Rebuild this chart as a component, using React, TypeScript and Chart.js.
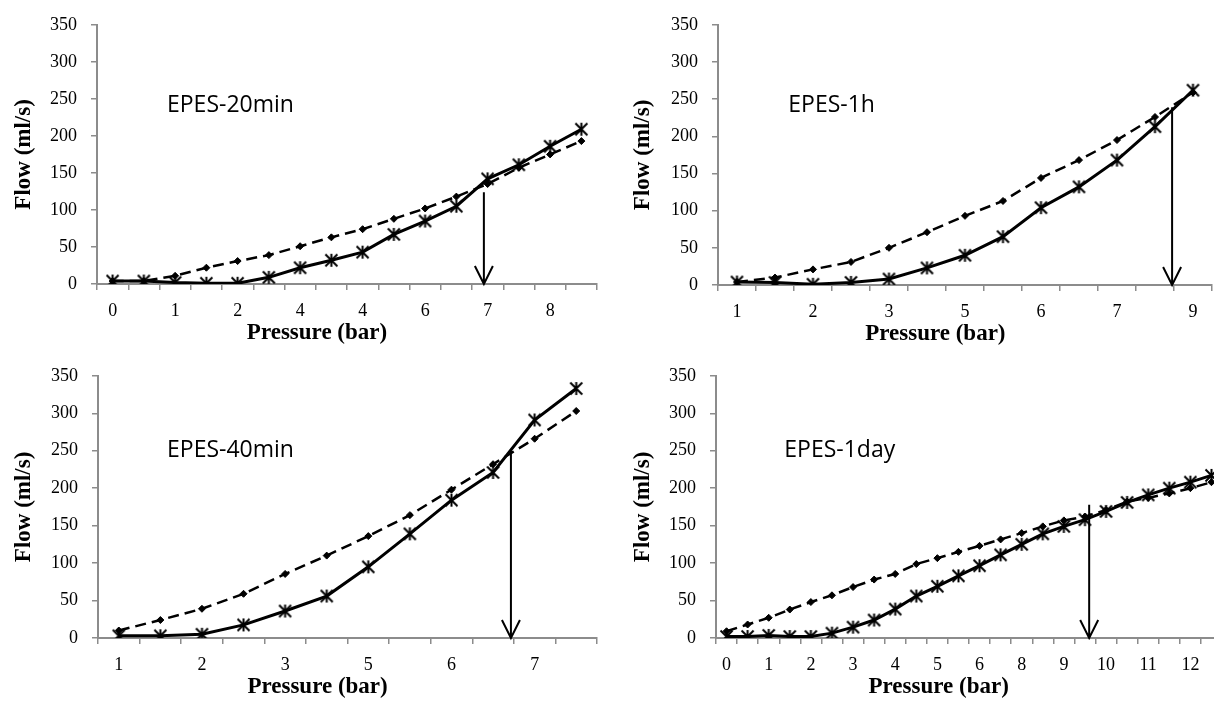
import React, { useEffect, useRef } from "react";
import { Chart, registerables } from "chart.js";
Chart.register(...registerables);

// ---------- Data ----------
// Panel 1: EPES-20min
const P1_TICKS = ["0", "1", "2", "4", "4", "6", "7", "8"];
const P1_STAR = [4, 4, 2, 1, 1, 9, 22, 32, 43, 67, 85, 105, 142, 161, 186, 209];
const P1_DIAMOND = [4, 4, 11, 22, 31, 39, 51, 63, 74, 88, 102, 118, 135, 157, 175, 193];

// Panel 2: EPES-1h
const P2_TICKS = ["1", "2", "3", "5", "6", "7", "9"];
const P2_STAR = [4, 3.5, 1, 3.5, 8, 23, 40, 65, 104, 132, 168, 213, 262];
const P2_DIAMOND = [4, 10, 21, 31, 50, 71, 93, 113, 144, 168, 195, 226, 259];

// Panel 3: EPES-40min
const P3_TICKS = ["1", "2", "3", "5", "6", "7"];
const P3_STAR = [3, 3, 5, 17.5, 36, 56, 95, 139, 184, 221, 291, 333];
const P3_DIAMOND = [10, 24, 39, 59, 85.5, 110, 136, 164, 198, 232, 266, 303];

// Panel 4: EPES-1day
const P4_TICKS = ["0", "1", "2", "3", "4", "5", "6", "8", "9", "10", "11", "12"];
const P4_STAR = [2, 2, 3.5, 2, 2, 6.5, 14.5, 24, 38.6, 56, 69, 83, 96.5, 111, 125, 139, 149, 158, 169, 181, 191, 200, 208, 217];
const P4_DIAMOND = [9, 18, 27, 38, 48, 57, 68, 78, 85.5, 98.7, 106.6, 115, 123, 131.6, 140, 149, 157, 162, 171, 182, 187, 193, 200, 208];

const Y_TICKS_MAX = 350;
const Y_TICKS_STEP = 50;

// ---------- Styling helpers ----------
Chart.defaults.font.family = '"Liberation Serif", "Times New Roman", serif';
Chart.defaults.color = "#000";

function makeAsterisk(size: number, lw: number): HTMLCanvasElement {
  const c = document.createElement("canvas");
  c.width = size;
  c.height = size;
  const g = c.getContext("2d")!;
  g.strokeStyle = "#000";
  g.lineWidth = lw;
  g.lineCap = "butt";
  const m = 1;
  g.beginPath();
  g.moveTo(size / 2, m);
  g.lineTo(size / 2, size - m);
  g.moveTo(m + 0.5, m + 0.5);
  g.lineTo(size - m - 0.5, size - m - 0.5);
  g.moveTo(size - m - 0.5, m + 0.5);
  g.lineTo(m + 0.5, size - m - 0.5);
  g.stroke();
  return c;
}

const overlayPlugin = {
  id: "overlay",
  afterDatasetsDraw(chart: any, _args: any, opts: any) {
    const { ctx, chartArea, scales } = chart;
    const x = scales.x;
    const y = scales.y;
    ctx.save();
    // panel label
    ctx.font = `${opts.labelSize}px "Open Sans", sans-serif`;
    ctx.fillStyle = "#000";
    ctx.textAlign = "left";
    ctx.textBaseline = "middle";
    ctx.fillText(opts.label, x.getPixelForValue(opts.labelX), y.getPixelForValue(opts.labelY));
    // arrow
    const ax = x.getPixelForValue(opts.arrowX);
    const top = y.getPixelForValue(opts.arrowTop);
    const bot = y.getPixelForValue(0);
    ctx.strokeStyle = "#000";
    ctx.lineWidth = 2;
    ctx.beginPath();
    ctx.moveTo(ax, top);
    ctx.lineTo(ax, bot);
    ctx.moveTo(ax - 9, bot - 18);
    ctx.lineTo(ax, bot);
    ctx.lineTo(ax + 9, bot - 18);
    ctx.stroke();
    // x-axis title
    ctx.font = 'bold 23px "Liberation Serif", serif';
    ctx.textAlign = "center";
    ctx.textBaseline = "middle";
    ctx.fillText(
      opts.xTitle,
      chartArea.left + opts.xTitleFrac * (chartArea.right - chartArea.left),
      chartArea.bottom + 49
    );
    ctx.restore();
  },
};

type PanelProps = {
  left: number;
  top: number;
  width: number;
  height: number;
  yWidth: number;
  xHeight: number;
  padTop: number;
  padRight: number;
  yTitlePad: number;
  ticks: string[];
  star: number[];
  diamond: number[];
  label: string;
  labelX: number;
  labelY: number;
  arrowX: number;
  arrowTop: number;
};

function Panel(p: PanelProps) {
  const ref = useRef<HTMLCanvasElement>(null);
  useEffect(() => {
    const labels = p.star.map((_, i) => (i % 2 === 0 ? p.ticks[i / 2] ?? "" : ""));
    const chart = new Chart(ref.current!, {
      type: "line",
      data: {
        labels,
        datasets: [
          {
            data: p.star,
            borderColor: "#000",
            borderWidth: 3,
            pointStyle: makeAsterisk(15, 2),
            pointRadius: 7,
            tension: 0,
          },
          {
            data: p.diamond,
            borderColor: "#000",
            borderWidth: 2.5,
            borderDash: [11, 6],
            pointStyle: "rectRot",
            pointRadius: 3.5,
            pointBackgroundColor: "#000",
            pointBorderColor: "#000",
            pointBorderWidth: 1,
            tension: 0,
          },
        ],
      },
      options: {
        responsive: false,
        animation: false,
        events: [],
        layout: { padding: { top: p.padTop, right: p.padRight, left: 0, bottom: 0 } },
        plugins: {
          legend: { display: false },
          tooltip: { enabled: false },
          overlay: {
            label: p.label,
            labelSize: 23,
            labelX: p.labelX,
            labelY: p.labelY,
            arrowX: p.arrowX,
            arrowTop: p.arrowTop,
            xTitle: "Pressure (bar)",
            xTitleFrac: 0.44,
          },
        } as any,
        scales: {
          x: {
            type: "category",
            offset: true,
            afterFit: (s: any) => {
              s.height = p.xHeight;
            },
            border: { display: true, color: "#8c8c8c", width: 2 },
            grid: {
              display: true,
              offset: true,
              drawOnChartArea: false,
              drawTicks: true,
              tickLength: 6,
              color: "#8c8c8c",
              lineWidth: 1.5,
            },
            ticks: {
              autoSkip: false,
              maxRotation: 0,
              minRotation: 0,
              padding: 10,
              font: { size: 18 },
              color: "#000",
            },
          },
          y: {
            min: 0,
            max: Y_TICKS_MAX,
            afterFit: (s: any) => {
              s.width = p.yWidth;
            },
            border: { display: true, color: "#8c8c8c", width: 2 },
            grid: {
              display: true,
              drawOnChartArea: false,
              drawTicks: true,
              tickLength: 6,
              color: "#8c8c8c",
              lineWidth: 1.5,
            },
            ticks: {
              stepSize: Y_TICKS_STEP,
              padding: 14,
              font: { size: 18 },
              color: "#000",
            },
            title: {
              display: true,
              text: "Flow (ml/s)",
              color: "#000",
              font: { size: 23, weight: "bold" },
              padding: { top: p.yTitlePad, bottom: 0 },
            },
          },
        },
      },
      plugins: [overlayPlugin],
    });
    return () => chart.destroy();
  }, []);
  return (
    <div style={{ position: "absolute", left: p.left, top: p.top }}>
      <canvas ref={ref} width={p.width} height={p.height} style={{ display: "block" }} />
    </div>
  );
}

export default function App() {
  return (
    <div
      style={{
        position: "fixed",
        left: 0,
        top: 0,
        width: 1214,
        height: 702,
        overflow: "hidden",
        background: "#fff",
      }}
    >
      <Panel
        left={0}
        top={0}
        width={607}
        height={351}
        yWidth={97}
        xHeight={67}
        padTop={21}
        padRight={10}
        yTitlePad={10}
        ticks={P1_TICKS}
        star={P1_STAR}
        diamond={P1_DIAMOND}
        label="EPES-20min"
        labelX={1.74}
        labelY={241}
        arrowX={11.88}
        arrowTop={124}
      />
      <Panel
        left={607}
        top={0}
        width={615}
        height={351}
        yWidth={111}
        xHeight={66}
        padTop={20}
        padRight={5}
        yTitlePad={22}
        ticks={P2_TICKS}
        star={P2_STAR}
        diamond={P2_DIAMOND}
        label="EPES-1h"
        labelX={1.35}
        labelY={241}
        arrowX={11.45}
        arrowTop={239}
      />
      <Panel
        left={0}
        top={351}
        width={607}
        height={351}
        yWidth={98}
        xHeight={64}
        padTop={21}
        padRight={9}
        yTitlePad={10}
        ticks={P3_TICKS}
        star={P3_STAR}
        diamond={P3_DIAMOND}
        label="EPES-40min"
        labelX={1.16}
        labelY={250}
        arrowX={9.43}
        arrowTop={250}
      />
      <Panel
        left={607}
        top={351}
        width={625}
        height={351}
        yWidth={109}
        xHeight={64}
        padTop={21}
        padRight={5}
        yTitlePad={22}
        ticks={P4_TICKS}
        star={P4_STAR}
        diamond={P4_DIAMOND}
        label="EPES-1day"
        labelX={2.74}
        labelY={250}
        arrowX={17.2}
        arrowTop={178}
      />
    </div>
  );
}
